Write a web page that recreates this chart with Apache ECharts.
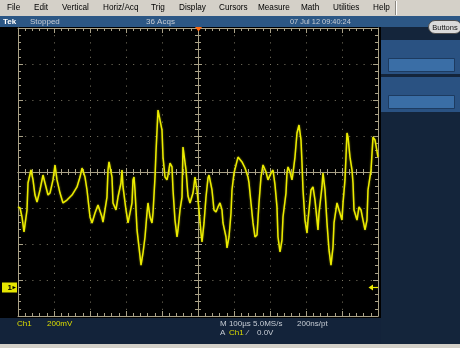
<!DOCTYPE html>
<html>
<head>
<meta charset="utf-8">
<script src="https://cdn.jsdelivr.net/npm/echarts@6/dist/echarts.min.js"></script>
<style>
  html, body { margin: 0; padding: 0; background: #d4d0c8; }
  #scope { width: 460px; height: 348px; }
</style>
</head>
<body>
<div id="scope"></div>
<script>
// Ch1 acquisition: time relative to trigger (µs) and voltage (V)
const timeUs = [
  -500, -494.4, -488.9, -483.3, -475, -472.2, -463.9, -458.3, -452.8, -447.2,
  -438.9, -430.6, -425, -416.7, -411.1, -402.8, -397.2, -391.7, -383.3, -375,
  -363.9, -350, -336.1, -327.8, -322.2, -313.9, -308.3, -300, -294.4, -286.1,
  -277.8, -266.7, -263.9, -252.8, -250, -247.2, -238.9, -236.1, -227.8, -222.2,
  -213.9, -211.1, -208.3, -200, -194.4, -183.3, -180.6, -177.8, -175, -169.4,
  -163.9, -158.3, -152.8, -147.2, -141.7, -138.9, -133.3, -127.8, -125, -119.4,
  -116.7, -111.1, -105.6, -100, -97.2, -91.7, -86.1, -83.3, -77.8, -72.2,
  -69.4, -63.9, -58.3, -55.6, -50, -44.4, -41.7, -38.9, -33.3, -27.8,
  -22.2, -13.9, -8.3, -2.8, 2.8, 8.3, 11.1, 16.7, 22.2, 27.8,
  30.6, 36.1, 38.9, 44.4, 50, 55.6, 61.1, 66.7, 69.4, 77.8,
  80.6, 86.1, 91.7, 94.4, 100, 111.1, 122.2, 130.6, 138.9, 141.7,
  147.2, 152.8, 158.3, 163.9, 169.4, 175, 180.6, 188.9, 194.4, 202.8,
  208.3, 213.9, 219.4, 222.2, 227.8, 233.3, 236.1, 244.4, 247.2, 250,
  255.6, 261.1, 263.9, 269.4, 275, 280.6, 286.1, 288.9, 291.7, 297.2,
  302.8, 305.6, 313.9, 319.4, 325, 330.6, 333.3, 336.1, 344.4, 347.2,
  352.8, 358.3, 363.9, 369.4, 375, 377.8, 386.1, 391.7, 400, 402.8,
  408.3, 413.9, 416.7, 422.2, 427.8, 430.6, 433.3, 441.7, 447.2, 452.8,
  458.3, 463.9, 469.4, 472.2, 480.6, 486.1, 491.7, 500
];
const ch1Volts = [
  0.446, 0.440, 0.390, 0.307, 0.429, 0.579, 0.651, 0.596, 0.512, 0.473,
  0.540, 0.623, 0.579, 0.512, 0.523, 0.596, 0.679, 0.596, 0.523, 0.468,
  0.484, 0.512, 0.557, 0.612, 0.662, 0.612, 0.540, 0.390, 0.357, 0.412,
  0.457, 0.390, 0.362, 0.501, 0.651, 0.696, 0.612, 0.468, 0.429, 0.501,
  0.579, 0.651, 0.557, 0.429, 0.357, 0.468, 0.596, 0.612, 0.540, 0.318,
  0.223, 0.123, 0.190, 0.279, 0.412, 0.468, 0.390, 0.357, 0.412, 0.612,
  0.751, 0.984, 0.984, 0.873, 0.723, 0.612, 0.596, 0.623, 0.690, 0.668,
  0.540, 0.373, 0.279, 0.318, 0.429, 0.501, 0.779, 0.773, 0.651, 0.507,
  0.468, 0.523, 0.612, 0.540, 0.429, 0.301, 0.251, 0.357, 0.501, 0.607,
  0.623, 0.612, 0.540, 0.429, 0.418, 0.446, 0.468, 0.429, 0.357, 0.279,
  0.218, 0.279, 0.412, 0.540, 0.634, 0.723, 0.696, 0.662, 0.612, 0.579,
  0.468, 0.357, 0.279, 0.290, 0.468, 0.612, 0.679, 0.640, 0.596, 0.634,
  0.651, 0.568, 0.446, 0.279, 0.196, 0.262, 0.390, 0.523, 0.634, 0.668,
  0.640, 0.596, 0.634, 0.723, 0.857, 0.901, 0.818, 0.690, 0.540, 0.373,
  0.301, 0.373, 0.540, 0.557, 0.484, 0.373, 0.318, 0.412, 0.557, 0.634,
  0.540, 0.357, 0.207, 0.123, 0.223, 0.357, 0.468, 0.429, 0.373, 0.468,
  0.596, 0.857, 0.834, 0.723, 0.651, 0.579, 0.429, 0.373, 0.446, 0.429,
  0.373, 0.318, 0.373, 0.540, 0.651, 0.834, 0.818, 0.723
];

// Horizontal: 100 µs/div, 10 divisions, trigger at centre
const timeMin = -500, timeMax = 500, timePerDiv = 100;
// Vertical: 200 mV/div, 8 divisions, ground 3.2 div below centre
const voltMin = -0.16, voltMax = 1.44, voltPerDiv = 0.2;

const menuItems = ['File', 'Edit', 'Vertical', 'Horiz/Acq', 'Trig', 'Display', 'Cursors', 'Measure', 'Math', 'Utilities', 'Help'];
const menuX = [7, 34, 62, 103, 151, 179, 219, 258, 301, 333, 373];

const FONT = 'Liberation Sans, Arial, sans-serif';
const gratColor = '#aaa288';
const dotColor = '#7e7966';
const traceColor = '#ecec00';
const readoutYellow = '#dede00';
const readoutGrey = '#c6ccd4';

function edgeAxis(extra) {
  return Object.assign({
    type: 'value',
    axisLabel: { show: false },
    axisLine: { show: true, onZero: false, lineStyle: { color: gratColor, width: 1 } },
    axisTick: { show: true, inside: true, length: 5, lineStyle: { color: gratColor } },
    minorTick: { show: true, splitNumber: 5, length: 3, lineStyle: { color: gratColor } },
    splitLine: { show: false }
  }, extra);
}
function centreAxis(extra, inside, zeroIdx) {
  return Object.assign({
    type: 'value',
    axisLabel: { show: false },
    axisLine: { show: true, onZero: true, onZeroAxisIndex: zeroIdx, lineStyle: { color: gratColor, width: 1 } },
    axisTick: { show: true, inside: inside, length: 4, lineStyle: { color: gratColor } },
    minorTick: { show: true, splitNumber: 5, length: 3, lineStyle: { color: gratColor } },
    splitLine: { show: false }
  }, extra);
}
const dotted = { show: true, lineStyle: { color: dotColor, width: 1, type: [1, 6.2] } };

const timeScale = { min: timeMin, max: timeMax, interval: timePerDiv };
const voltScale = { min: voltMin, max: voltMax, interval: voltPerDiv };
const divScale = { min: -4, max: 4, interval: 1 };

function txt(x, y, text, fill, font, extra) {
  return {
    type: 'text', x: x, y: y, z: 50,
    style: Object.assign({ text: text, fill: fill, font: font, verticalAlign: 'middle' }, extra || {})
  };
}
const f8 = '8px ' + FONT;

const graphics = [
  // window chrome
  { type: 'rect', z: -30, shape: { x: 0, y: 0, width: 460, height: 348 }, style: { fill: '#d4d0c8' } },
  { type: 'line', z: -20, shape: { x1: 395.5, y1: 1, x2: 395.5, y2: 15 }, style: { stroke: '#8a8780' } },
  { type: 'line', z: -20, shape: { x1: 396.5, y1: 1, x2: 396.5, y2: 15 }, style: { stroke: '#ffffff' } },
  { type: 'rect', z: -20, shape: { x: 0, y: 16, width: 460, height: 11 }, style: { fill: '#2c5785' } },
  { type: 'rect', z: -20, shape: { x: 0, y: 27, width: 381, height: 291 }, style: { fill: '#000000' } },
  { type: 'rect', z: -20, shape: { x: 381, y: 27, width: 79, height: 317 }, style: { fill: '#14253b' } },
  { type: 'rect', z: -20, shape: { x: 0, y: 318, width: 381, height: 26 }, style: { fill: '#13233a' } },
  // side panel controls
  { type: 'rect', z: -15, shape: { x: 381, y: 40, width: 79, height: 34 }, style: { fill: '#2a5282' } },
  { type: 'rect', z: -14, shape: { x: 388.5, y: 58.5, width: 66, height: 13 }, style: { fill: '#3a6ea6', stroke: '#1d3b60' } },
  { type: 'rect', z: -15, shape: { x: 381, y: 77, width: 79, height: 35 }, style: { fill: '#2a5282' } },
  { type: 'rect', z: -14, shape: { x: 388.5, y: 95.5, width: 66, height: 13 }, style: { fill: '#3a6ea6', stroke: '#1d3b60' } },
  { type: 'rect', z: 40, shape: { x: 428.5, y: 20.5, width: 33, height: 13, r: 6.5 }, style: { fill: '#dadada', stroke: '#4e4e4e' } },
  txt(445, 27.5, 'Buttons', '#111111', '7.5px ' + FONT, { align: 'center' }),
  // status line
  txt(3, 22, 'Tek', '#ffffff', 'bold 8px ' + FONT),
  txt(30, 22, 'Stopped', readoutGrey, f8),
  txt(146, 22, '36 Acqs', readoutGrey, f8),
  txt(290, 22, '07 Jul 12 09:40:24', readoutGrey, '7.4px ' + FONT),
  // trigger position marker
  { type: 'polygon', z: 45, shape: { points: [[195, 27], [202, 27], [198.5, 31.5]] }, style: { fill: '#ff6a10' } },
  // channel 1 ground marker
  { type: 'rect', z: 45, shape: { x: 2, y: 282.5, width: 15, height: 10 }, style: { fill: '#e6e600' } },
  txt(7.5, 288, '1', '#000000', 'bold 8px ' + FONT),
  { type: 'polygon', z: 46, shape: { points: [[12.5, 286], [16, 287.6], [12.5, 289.2]] }, style: { fill: '#000000' } },
  // trigger level marker
  { type: 'line', z: 45, shape: { x1: 372, y1: 287.5, x2: 378, y2: 287.5 }, style: { stroke: traceColor, lineWidth: 1.2 } },
  { type: 'polygon', z: 45, shape: { points: [[368.5, 287.5], [373, 284.5], [373, 290.5]] }, style: { fill: traceColor } },
  // readouts
  txt(17, 323.5, 'Ch1', readoutYellow, f8),
  txt(47, 323.5, '200mV', readoutYellow, f8),
  txt(220, 323.5, 'M 100µs 5.0MS/s', readoutGrey, f8),
  txt(297, 323.5, '200ns/pt', readoutGrey, f8),
  txt(220, 333, 'A', readoutGrey, f8),
  txt(229, 333, 'Ch1', readoutYellow, f8),
  txt(247, 333, '⁄', readoutGrey, f8),
  txt(257, 333, '0.0V', readoutGrey, f8)
];
menuItems.forEach(function (name, i) {
  graphics.push(txt(menuX[i], 8, name, '#000000', '8.2px ' + FONT));
});

const chart = echarts.init(document.getElementById('scope'), null, { renderer: 'canvas' });
chart.setOption({
  animation: false,
  backgroundColor: 'transparent',
  grid: { left: 18, top: 28, width: 360, height: 288, containLabel: false },
  xAxis: [
    edgeAxis(Object.assign({ position: 'bottom', splitLine: dotted }, timeScale)),
    edgeAxis(Object.assign({ position: 'top' }, timeScale)),
    centreAxis(Object.assign({ position: 'bottom' }, timeScale), true, 2),
    centreAxis(Object.assign({ position: 'bottom' }, timeScale), false, 2)
  ],
  yAxis: [
    edgeAxis(Object.assign({ position: 'left', splitLine: dotted }, voltScale)),
    edgeAxis(Object.assign({ position: 'right' }, voltScale)),
    centreAxis(Object.assign({ position: 'left' }, divScale), true, 0),
    centreAxis(Object.assign({ position: 'left' }, divScale), false, 0)
  ],
  series: [{
    name: 'Ch1',
    type: 'line',
    xAxisIndex: 0,
    yAxisIndex: 0,
    data: timeUs.map(function (t, i) { return [t, ch1Volts[i]]; }),
    symbol: 'none',
    smooth: false,
    clip: true,
    z: 10,
    lineStyle: { color: traceColor, width: 1.5, shadowColor: 'rgba(140,140,0,0.9)', shadowBlur: 2 }
  }],
  graphic: graphics
});
</script>
</body>
</html>
